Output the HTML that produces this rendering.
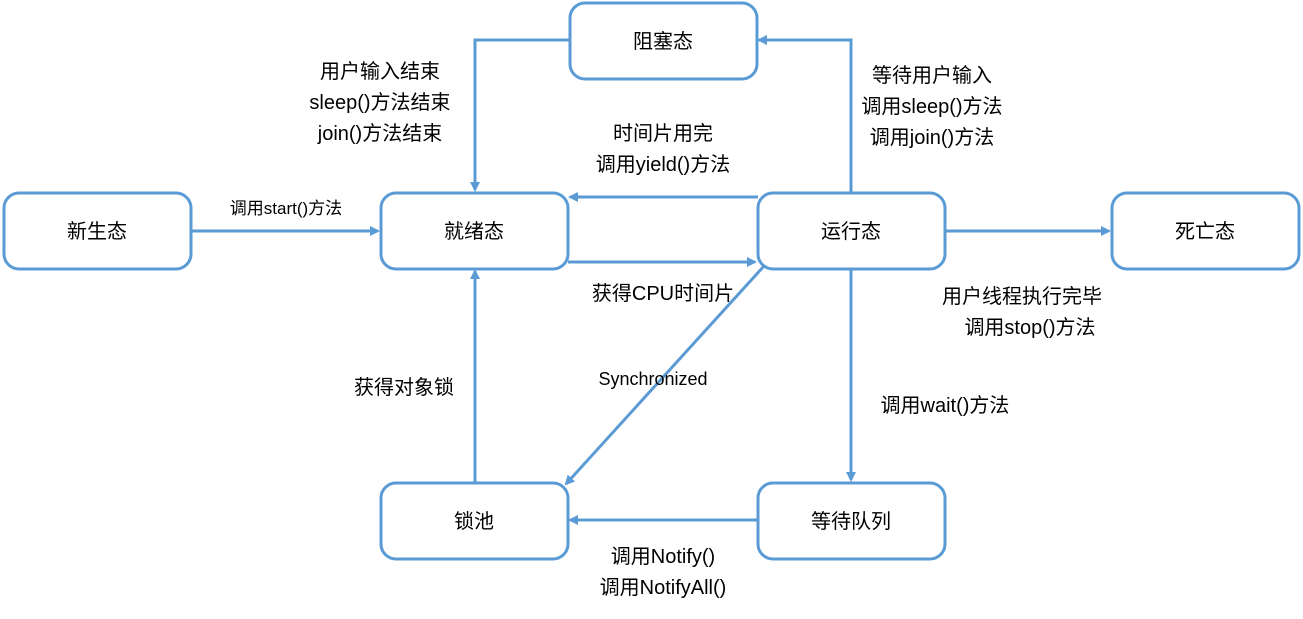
<!DOCTYPE html>
<html><head><meta charset="utf-8"><style>
html,body{margin:0;padding:0;background:#fff;}
svg text{font-family:"Liberation Sans","Noto Sans CJK SC",sans-serif;fill:#000;}
</style></head><body>
<svg width="1303" height="614" viewBox="0 0 1303 614" xmlns="http://www.w3.org/2000/svg">
<defs>
<marker id="a" markerWidth="10" markerHeight="10" refX="8" refY="5" orient="auto" markerUnits="userSpaceOnUse" viewBox="0 0 10 10">
<path d="M0,0 L10,5 L0,10 z" fill="#5b9bd5"/>
</marker>
</defs>
<g fill="none" stroke="#5b9bd5" stroke-width="3">
<rect x="4" y="193" width="187" height="76" rx="15"/>
<rect x="381" y="193" width="187" height="76" rx="15"/>
<rect x="570" y="3" width="187" height="76" rx="15"/>
<rect x="758" y="193" width="187" height="76" rx="15"/>
<rect x="1112" y="193" width="187" height="76" rx="15"/>
<rect x="381" y="483" width="187" height="76" rx="15"/>
<rect x="758" y="483" width="187" height="76" rx="15"/>
</g>
<g fill="none" stroke="#5b9bd5" stroke-width="3" marker-end="url(#a)">
<path d="M191,231 H378"/>
<path d="M568,262 H755"/>
<path d="M758,197 H570"/>
<path d="M851,193 V40 H759"/>
<path d="M570,40 H475 V190"/>
<path d="M945,231 H1109"/>
<path d="M851,269 V480"/>
<path d="M758,520 H570"/>
<path d="M475,483 V271"/>
<path d="M764,266 L566,484"/>
</g>
<g font-size="20" text-anchor="middle">
<text x="97" y="238">新生态</text>
<text x="474" y="238">就绪态</text>
<text x="663" y="48">阻塞态</text>
<text x="851" y="238">运行态</text>
<text x="1205" y="238">死亡态</text>
<text x="474" y="528">锁池</text>
<text x="851" y="528">等待队列</text>
</g>
<g font-size="20" text-anchor="middle">
<text x="380" y="78">用户输入结束</text>
<text x="380" y="109">sleep()方法结束</text>
<text x="380" y="140">join()方法结束</text>
<text x="663" y="140">时间片用完</text>
<text x="663" y="171">调用yield()方法</text>
<text x="932" y="82">等待用户输入</text>
<text x="932" y="113">调用sleep()方法</text>
<text x="932" y="144">调用join()方法</text>
<text x="663" y="300">获得CPU时间片</text>
<text x="1022" y="303">用户线程执行完毕</text>
<text x="1030" y="334">调用stop()方法</text>
<text x="404" y="394">获得对象锁</text>
<text x="945" y="412">调用wait()方法</text>
<text x="663" y="563">调用Notify()</text>
<text x="663" y="594">调用NotifyAll()</text>
</g>
<text x="286" y="214" font-size="17" text-anchor="middle">调用start()方法</text>
<text x="653" y="385" font-size="18" text-anchor="middle">Synchronized</text>
</svg>
</body></html>
